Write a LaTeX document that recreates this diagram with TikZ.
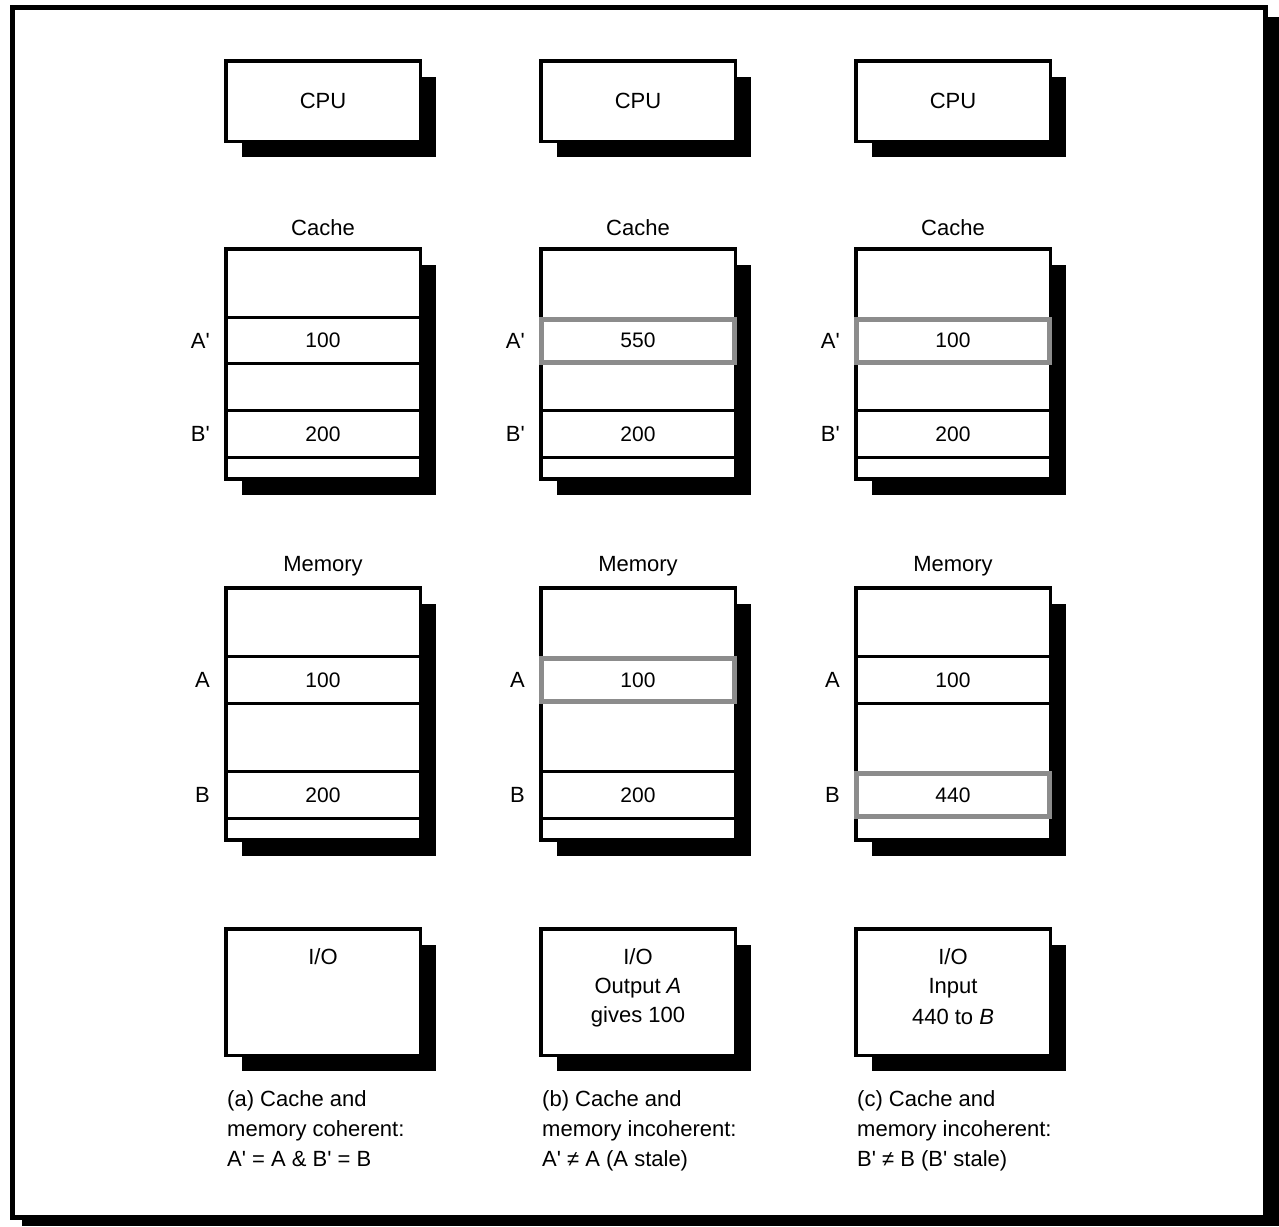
\documentclass[tikz,border=0pt]{standalone}
\usepackage{fontspec}
\setmainfont{Liberation Sans}
\usetikzlibrary{shadows}
\newcommand\pr{\textquotesingle}
\definecolor{hlgray}{HTML}{8C8C8C}
\begin{document}
\begin{tikzpicture}[x=1pt,y=-1pt,
  txt/.style={font=\fontsize{22}{30}\selectfont, inner sep=0pt},
  box/.style={draw, line width=3.5pt, fill=white, minimum width=194.5pt, inner sep=0pt,
     drop shadow={shadow xshift=16pt, shadow yshift=-16pt, opacity=1, fill=black, shadow scale=1}},
  cell/.style={draw, line width=3.2pt, minimum width=194.5pt, minimum height=46.5pt, inner sep=0pt,
     font=\fontsize{21}{24}\selectfont},
  hl/.style={draw=hlgray, line width=5pt, fill=white, minimum width=193pt, minimum height=43pt, inner sep=0pt,
     font=\fontsize{21}{24}\selectfont},
  lbl/.style={txt, anchor=east}
]
\useasboundingbox (0,0) rectangle (1279,1226);
% outer frame with shadow
\fill[black] (22,17) rectangle (1279,1226);
\draw[line width=5pt, fill=white] (12.5,7.5) rectangle (1265.5,1217.5);

\foreach \c/\dx/\ca/\sa/\ma/\sma/\mb/\smb in {a/0/100/cell/100/cell/200/cell, b/315/550/hl/100/hl/200/cell, c/630/100/hl/100/cell/440/hl}{
  \begin{scope}[xshift=\dx pt]
    % CPU
    \node[box, minimum height=80.5pt, txt] (cpu\c) at (323,101) {CPU};
    % Cache
    \node[txt] (cachelbl\c) at (323,228) {Cache};
    \node[box, minimum height=230pt] (cache\c) at (323,364) {};
    \node[\sa] (cacheA\c) at (323,340.5) {\ca};
    \node[cell] (cacheB\c) at (323,434) {200};
    \node[lbl] (lblAp\c) at (210,340.5) {A\pr};
    \node[lbl] (lblBp\c) at (210,434) {B\pr};
    % Memory
    \node[txt] (memlbl\c) at (323,566) {Memory};
    \node[box, minimum height=252pt] (mem\c) at (323,714) {};
    \node[\sma] (memA\c) at (323,680) {\ma};
    \node[\smb] (memB\c) at (323,795) {\mb};
    \node[lbl] (lblA\c) at (210,680) {A};
    \node[lbl] (lblB\c) at (210,795) {B};
    % I/O
    \node[box, minimum height=126.5pt] (io\c) at (323,992) {};
    \node[txt] (iot\c) at (323,957) {I/O};
  \end{scope}
}
\node[txt] (iob1) at (638,988) {Output \textit{A}};
\node[txt] (iob2) at (638,1017) {gives 100};
\node[txt] (ioc1) at (953,988) {Input};
\node[txt] (ioc2) at (953,1017) {440 to \textit{B}};

% captions
\node[txt, anchor=north west, align=left] (capa) at (227,1090) {(a) Cache and\\memory coherent:\\A\pr{} = A \& B\pr{} = B};
\node[txt, anchor=north west, align=left] (capb) at (542,1090) {(b) Cache and\\memory incoherent:\\A\pr{} ≠ A (A stale)};
\node[txt, anchor=north west, align=left] (capc) at (857,1090) {(c) Cache and\\memory incoherent:\\B\pr{} ≠ B (B\pr{} stale)};
\end{tikzpicture}
\end{document}
